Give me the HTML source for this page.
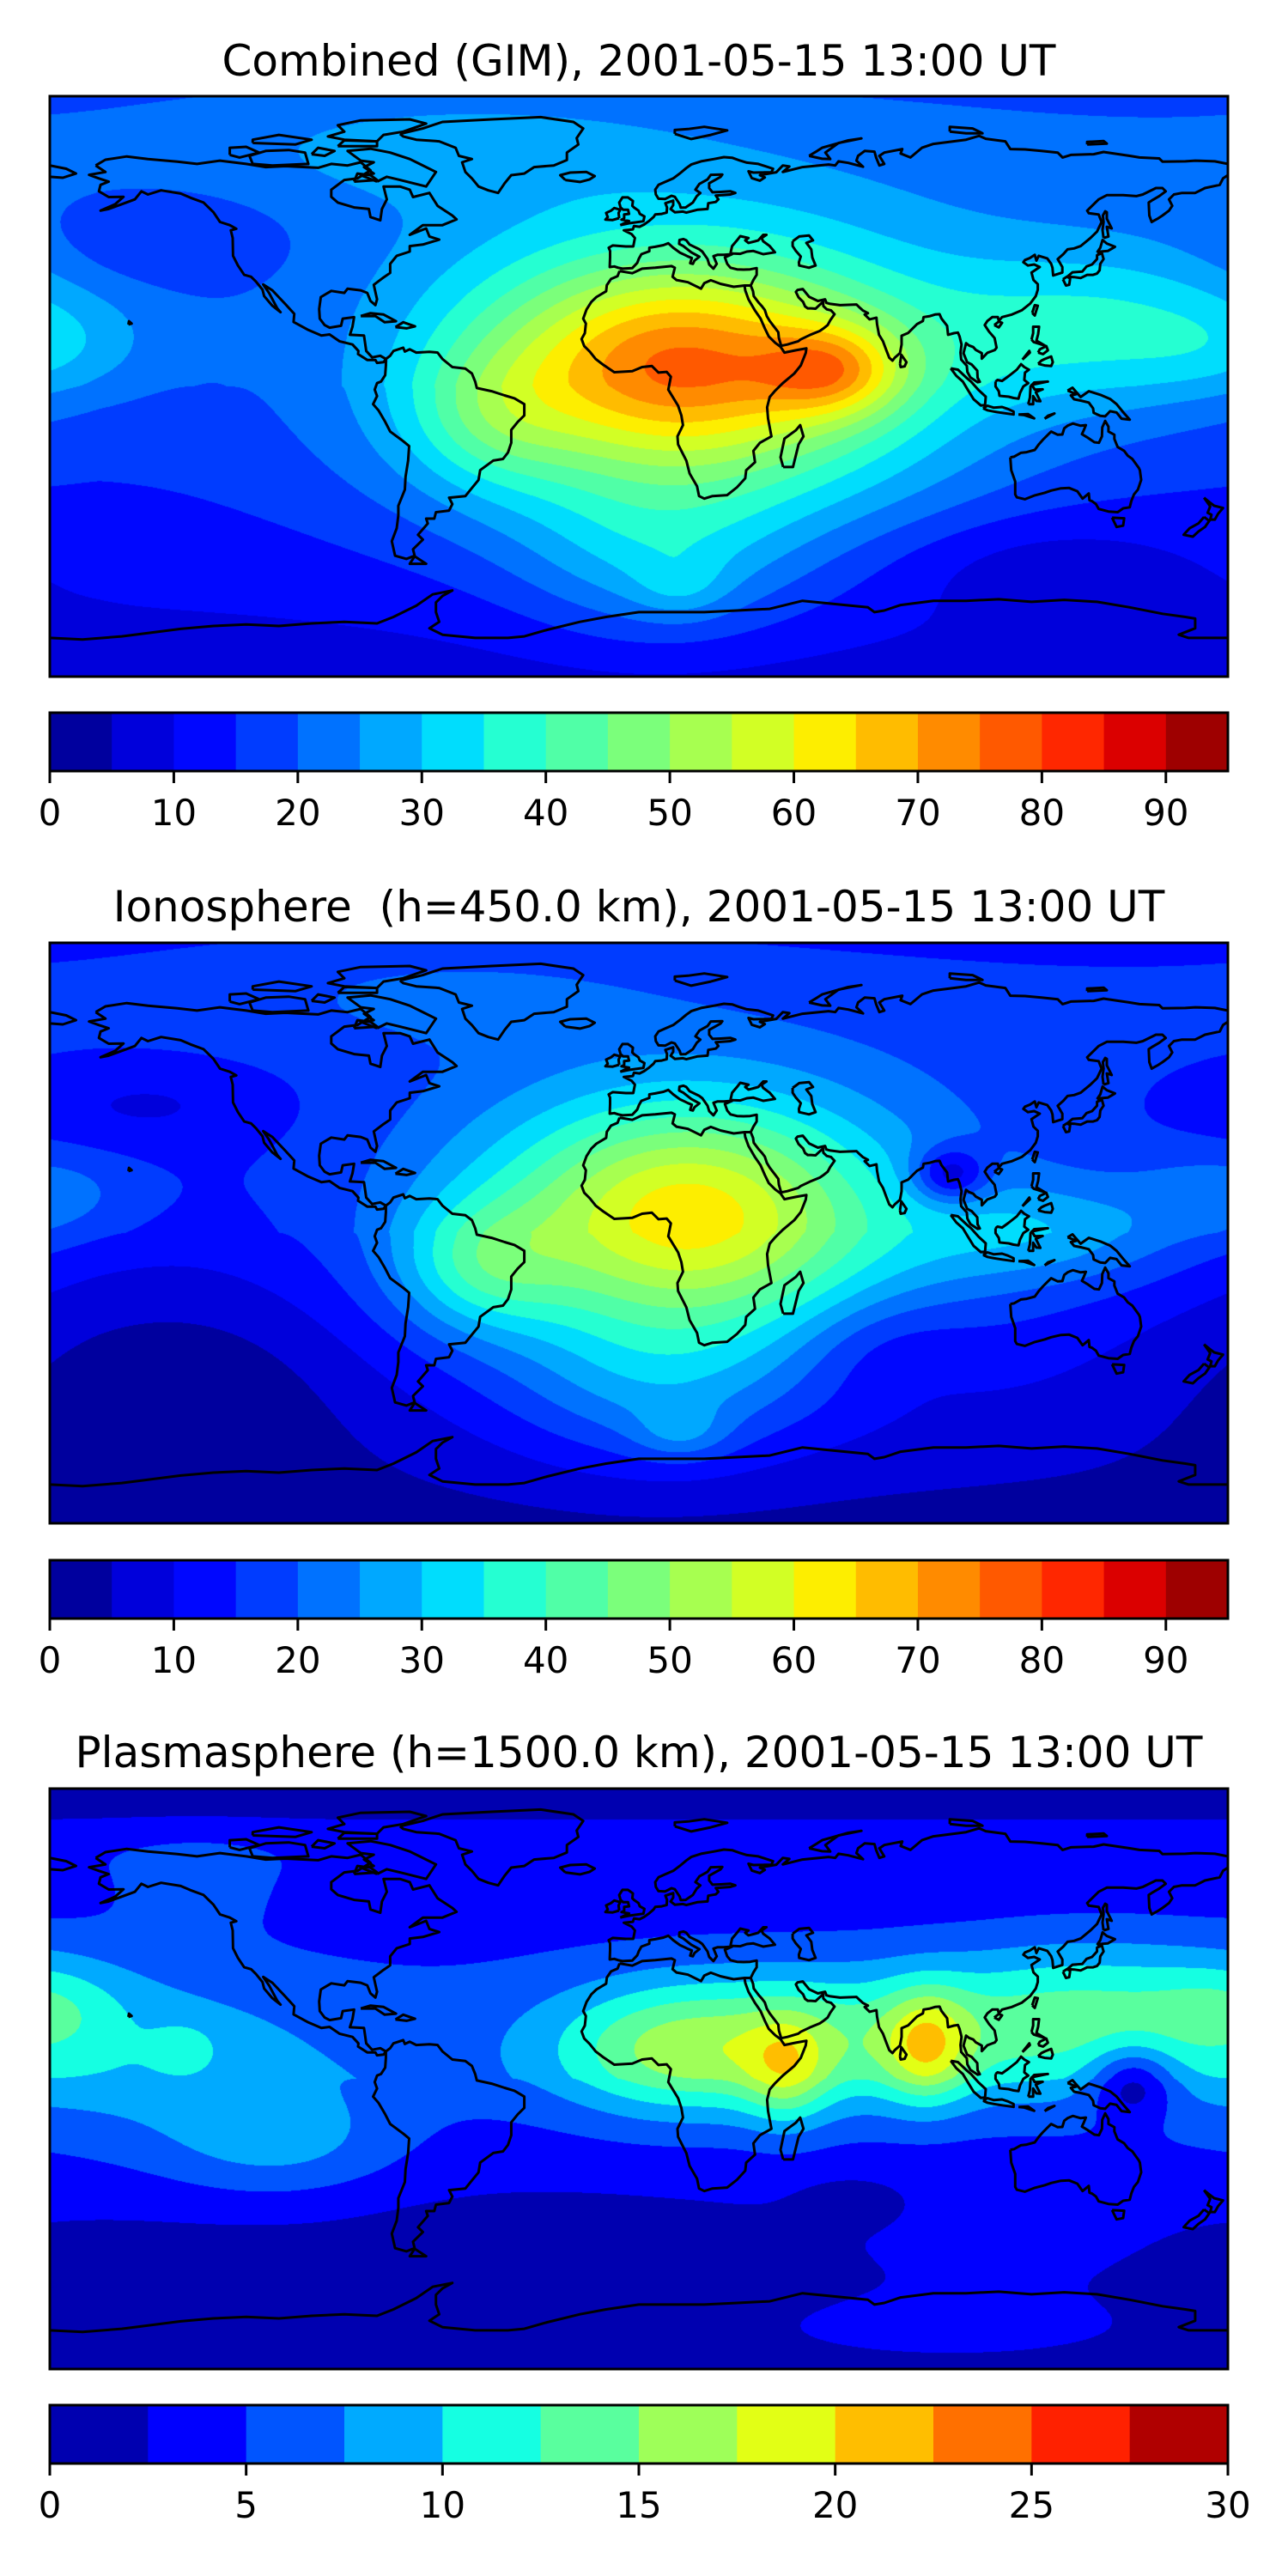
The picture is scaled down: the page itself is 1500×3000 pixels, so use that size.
<!DOCTYPE html>
<html><head><meta charset="utf-8">
<style>
html,body{margin:0;padding:0;background:#fff;}
#root{position:relative;width:1500px;height:3000px;overflow:hidden;background:#fff;}
canvas{position:absolute;}
svg{position:absolute;left:0;top:0;}
text{font-family:"DejaVu Sans","Liberation Sans",sans-serif;fill:#000;}
</style></head>
<body>
<div id="root">
<canvas id="c0" width="1372" height="676" style="left:58px;top:112px"></canvas>
<canvas id="c1" width="1372" height="676" style="left:58px;top:1098px"></canvas>
<canvas id="c2" width="1372" height="676" style="left:58px;top:2083px"></canvas>
<svg id="ov" width="1500" height="3000" xmlns="http://www.w3.org/2000/svg">
<text x="744" y="88" font-size="50" text-anchor="middle">Combined (GIM), 2001-05-15 13:00 UT</text>
<text x="744" y="1073" font-size="50" text-anchor="middle" xml:space="preserve">Ionosphere  (h=450.0 km), 2001-05-15 13:00 UT</text>
<text x="744" y="2058" font-size="50" text-anchor="middle">Plasmasphere (h=1500.0 km), 2001-05-15 13:00 UT</text>
</svg>
</div>
<script>
// ---------- data ----------
const panelTop = [112, 1098, 2083];
const cbarTop = [830, 1817, 2801];
const levelMin = [0, 0, 0];
const levelMax = [95, 95, 30];
const levelStep = [5, 5, 2.5];
const tickValues0 = [0,10,20,30,40,50,60,70,80,90];
const tickValues1 = [0,10,20,30,40,50,60,70,80,90];
const tickValues2 = [0,5,10,15,20,25,30];
// background: base + eq*cos(lat) + north*sin(lat)^2 (N) - south*sqrt(-sin(lat)) (S)
const bgBase = [9, 6, 0.5];
const bgEq = [8, 8, 5];
const bgNorth = [10, 8, 0];
const bgSouth = [2, 3, 2.5];
const bgArctic = [0, 0, 2];
// blobs per panel: lon, lat, amplitude, sigmaLon, sigmaLat
const blobLon0 = [15, 12, 60, -45, 5, 13, 145, -180, -60, -145, 120];
const blobLat0 = [0, 8, 5, -10, -55, -62, 18, 12, 75, 45, -55];
const blobAmp0 = [33, 27, 22, 10, 10, 6, 16, 5, 6, -6, -6];
const blobSLon0 = [60, 38, 15, 18, 28, 10, 40, 20, 50, 25, 35];
const blobSLat0 = [35, 20, 10, 15, 18, 7, 18, 10, 12, 10, 12];

const blobLon1 = [15, 15, -48, 5, 13, 125, 95, 180, -60, -150, -140, 75];
const blobLat1 = [0, 8, -10, -50, -62, 0, 18, 12, 75, 40, -45, -35];
const blobAmp1 = [30, 20, 15, 10, 8, 12, -18, 8, 5, -6, -8, -6];
const blobSLon1 = [55, 35, 18, 30, 10, 30, 8, 20, 50, 30, 40, 20];
const blobSLat1 = [32, 22, 14, 18, 6, 12, 6, 10, 12, 10, 26, 12];

const blobLon2 = [-150, -180, -139, -110, 55, 88, 45, 10, 140, 151, -135, 110, 65, -30, 95];
const blobLat2 = [5, 22, 10, -20, 12, 10, 2, 8, 22, -1, 60, -55, -38, -48, -80];
const blobAmp2 = [3.5, 3, 2.5, 4, 8, 8, 6, 6, 6, -7, 2.5, 2, -1.5, -1, 4.5];
const blobSLon2 = [45, 15, 7, 25, 50, 9, 9, 25, 35, 9, 20, 40, 12, 30, 60];
const blobSLat2 = [22, 10, 5, 12, 16, 12, 12, 14, 16, 8, 10, 12, 6, 8, 10];

const blobs = [
  [blobLon0, blobLat0, blobAmp0, blobSLon0, blobSLat0],
  [blobLon1, blobLat1, blobAmp1, blobSLon1, blobSLat1],
  [blobLon2, blobLat2, blobAmp2, blobSLon2, blobSLat2]
];

// ---------- scales ----------
const X0 = 58, W = 1372, H = 676;
function xOfLon(lon){ return X0 + (lon + 180) / 360 * W; }
function yOfLat(lat, p){ return panelTop[p] + (90 - lat) / 180 * H; }

function seg(x, pts){
  for (let i = 1; i < pts.length; i++) {
    if (x <= pts[i][0]) {
      const a = pts[i-1], b = pts[i];
      return a[1] + (b[1]-a[1]) * (x - a[0]) / (b[0]-a[0]);
    }
  }
  return pts[pts.length-1][1];
}
const jr = [[0,0],[0.35,0],[0.66,1],[0.89,1],[1,0.5]];
const jg = [[0,0],[0.125,0],[0.375,1],[0.64,1],[0.91,0],[1,0]];
const jb = [[0,0.5],[0.11,1],[0.34,1],[0.65,0],[1,0]];
function jet(x){ return [Math.round(255*seg(x,jr)), Math.round(255*seg(x,jg)), Math.round(255*seg(x,jb))]; }
function bandColors(p){
  const n = Math.round((levelMax[p]-levelMin[p])/levelStep[p]);
  const out = [];
  for (let k = 0; k < n; k++) out.push(jet((k+0.5)/n));
  return out;
}

// ---------- fields ----------
function drawField(p){
  const cv = document.getElementById('c'+p);
  const ctx = cv.getContext('2d');
  const img = ctx.createImageData(W, H);
  const cols = bandColors(p);
  const n = cols.length;
  const [bl, bt, ba, bsl, bst] = blobs[p];
  const nb = bl.length;
  const colF = [], rowF = [];
  for (let b = 0; b < nb; b++) {
    const cf = new Float32Array(W), rf = new Float32Array(H);
    for (let i = 0; i < W; i++) {
      const lon = -180 + (i+0.5)/W*360;
      let d = lon - bl[b]; d = ((d + 540) % 360) - 180;
      cf[i] = Math.exp(-0.5*(d/bsl[b])*(d/bsl[b]));
    }
    for (let j = 0; j < H; j++) {
      const lat = 90 - (j+0.5)/H*180;
      const d = lat - bt[b];
      rf[j] = ba[b]*Math.exp(-0.5*(d/bst[b])*(d/bst[b]));
    }
    colF.push(cf); rowF.push(rf);
  }
  for (let j = 0; j < H; j++) {
    const lat = 90 - (j+0.5)/H*180;
    const r = lat*Math.PI/180, s = Math.sin(r);
    let bg = bgBase[p] + bgEq[p]*Math.cos(r);
    if (s > 0) bg += bgNorth[p]*s*s; else bg -= bgSouth[p]*Math.sqrt(-s);
    bg += bgArctic[p]*Math.exp(-0.5*((lat-72)/8)*((lat-72)/8));
    for (let i = 0; i < W; i++) {
      let v = bg;
      for (let b = 0; b < nb; b++) v += colF[b][i]*rowF[b][j];
      let k = Math.floor((v - levelMin[p]) / levelStep[p]);
      if (k < 0) k = 0; if (k >= n) k = n-1;
      const c = cols[k], o = (j*W+i)*4;
      img.data[o]=c[0]; img.data[o+1]=c[1]; img.data[o+2]=c[2]; img.data[o+3]=255;
    }
  }
  ctx.putImageData(img, 0, 0);
}

// ---------- coastlines (lon,lat) ----------
const coasts = {
"north-america":"-166,68.5 -163,70.3 -156.5,71.3 -150,70.5 -141,69.7 -135,69 -128,70 -120,69 -114,68 -108,68.3 -98,67.8 -94,69 -89,68.5 -85,69.5 -82,67 -86,64.5 -90,64 -94,61 -94,58.8 -92,57 -87,55.5 -82.5,55 -82,52.5 -79,51.5 -78.5,55 -77,58 -78,62 -73,62 -70,61 -69,58.7 -64,60 -61.5,56 -57,53 -55.7,51.8 -60,50 -66,50 -70,47 -65,49 -64,46.5 -61,45.5 -66,44 -70,43.5 -70,41.8 -74,40.5 -76,38 -76,35.2 -78,33.8 -81,31.5 -80,27 -80.5,25.2 -82,26.5 -83,29 -85,29.8 -89,30.3 -90,29 -94,29.6 -97.2,27.7 -97.7,24 -97.5,21 -96,19 -94.5,18.2 -91,18.8 -90.5,21 -87,21.5 -87.5,18.5 -88.3,16 -84,15.8 -83.3,11 -81.5,9 -79,9.5 -77.3,8.5 -78,7.5 -80,7.3 -80.5,8.2 -83,8.2 -85.8,10 -85.7,11 -87.5,13 -91.5,14 -94.5,16.1 -97,15.8 -101,17.5 -105.5,20 -105.3,22.5 -108,25.5 -112,29.8 -114.8,31.6 -113,29 -110.5,24.2 -109.5,23 -112,25 -114.5,28 -115,30 -117,32.5 -118.5,34 -120.6,34.6 -122.5,37.5 -124,40.5 -124.1,46 -124.7,48.4 -123,48.9 -125,50 -128,51 -130,54 -133,57 -137,58.5 -140,59.8 -146,60.8 -150,59.5 -152,60.5 -154,58 -158,56.5 -162,55 -164.5,54.5 -160,56.5 -157.5,58.8 -162,58.7 -165,60.5 -164.5,62.5 -162,63.5 -165,64.5 -168,65.6 -163,66.5 -166,68.5",
"south-america":"-77.3,8.5 -76,9.5 -75,11 -72,12 -71.5,10.8 -70,11.5 -68,10.5 -64,10.7 -61.5,10.5 -60,8.5 -57,6 -53,5.5 -51,4 -50,1.5 -49.5,-0.5 -45,-1.5 -41,-2.8 -38,-3.7 -35,-5.5 -35,-9 -37,-11 -39,-13.5 -39,-17.5 -40,-20.5 -41.5,-22.5 -44.5,-23 -48.5,-26 -49,-29 -51,-31.5 -53,-34 -58,-34.5 -57,-36.5 -58,-38.5 -62,-39 -62.5,-41 -65,-41 -64.5,-42.5 -67.5,-46 -66,-47.5 -69,-50.5 -68.5,-52.5 -71,-53.5 -74.5,-52.5 -75.5,-48 -74,-44 -73.5,-40 -73.5,-37 -71.5,-32 -71.3,-28 -70.5,-23 -70.2,-18.5 -72,-17 -76,-14 -77.5,-11 -79.5,-7.5 -81.2,-5.5 -80,-3 -80.7,-1 -80,1 -78.8,1.5 -77.5,3.5 -77.3,6.5 -77.3,8.5",
"tierra-del-fuego":"-68.5,-52.7 -65,-55 -70,-55 -68.5,-52.7",
"greenland":"-73,78.3 -66,80 -60,82 -45,82.8 -30,83.5 -20,82 -17,80 -19,77 -18.5,75 -22,72.5 -22,70.2 -26,68.5 -32,68 -35,66 -39,65.5 -41,63 -43,60 -46,60.8 -49,62 -51,64.5 -53,66.5 -54,69.5 -51,70.5 -55,71.5 -56,74 -61,76 -68,76.5 -72,77.5 -73,78.3",
"iceland":"-22.5,64 -24,65.5 -21,66.3 -16,66.5 -13.5,65.2 -15,64.2 -18,63.4 -22.5,64",
"baffin":"-80,63.5 -77,65 -73,64 -65,62 -62,66.5 -67,69 -70,70.5 -76,72.5 -82,73.7 -89,73 -85,70 -81,69.5 -84,68 -81,66 -85,65.5 -80,63.5",
"victoria":"-118,69 -112,68.5 -101,69 -102,72.5 -107,73.3 -114,73 -119,71.5 -118,69",
"banks":"-125,71.8 -122,71 -116,72.5 -120,74.3 -125,74 -125,71.8",
"ellesmere":"-90,76.5 -80,76 -78,78 -72,79 -65,81.5 -70,82.8 -85,82.5 -92,81 -90,79 -95,77.5 -90,76.5",
"devon":"-92,74.5 -80,74.5 -80,76 -90,76.3 -92,74.5",
"southampton":"-87,63.5 -80,64 -82,65.5 -86,66 -87,63.5",
"somerset":"-100,72 -96,71.5 -93,73 -98,74 -100,72",
"parry":"-118,75.5 -105,75 -100,76.5 -110,78 -118,76.5 -118,75.5",
"cuba":"-85,21.8 -82,22.7 -78,22.3 -74.2,20.2 -77.7,19.9 -80.5,21.8 -85,21.8",
"hispaniola":"-74.4,18.4 -72,19.9 -68.4,18.6 -71,18 -74.4,18.4",
"hawaii":"-156,19.2 -155,19.5 -155.8,20.2 -156,19.2",
"africa":"-5.9,35.8 -2,35.1 1,36.5 5,36.8 10,37.3 11,36.8 10.3,34 11.5,33 15,32.3 19,30.3 20,32 22,32.9 25,31.8 29,30.9 32.3,31.3 32.5,29.8 33.5,27 35.5,23.5 37.2,21 38.5,18 39.7,15.5 41.7,13.5 43.3,12.3 44.5,10.5 48,11.2 51.2,11.8 51,10.4 49.5,6.5 47.5,4 44,1 41.5,-1.5 40,-3.3 39.2,-6.5 39.5,-10 40.5,-15.5 37,-17.5 35,-20 35.5,-23.5 32.8,-26 32.5,-28.5 30,-31.3 27,-33.7 22.5,-34 20,-34.8 18.4,-34 17.8,-31 15.5,-27 14.5,-23 12,-18 11.8,-15.5 13.5,-12 13,-9 12,-6 9,-1 9.8,3 8.5,4.5 6,4.3 4,6.3 1,6 -2,4.7 -7.5,4.4 -11,6.8 -13.2,8.5 -15,10.8 -16.7,12.5 -17.5,14.7 -16.5,16.5 -16.2,19.5 -17,21 -16,23.8 -14.5,26.2 -13,27.7 -10,29.5 -9.8,31.4 -8.5,33.3 -6.5,34.2 -5.9,35.8",
"madagascar":"44.1,-25 47.1,-25 48.8,-18 50.3,-15.5 49.3,-12 48,-13.6 44.5,-16.2 43.3,-22 44.1,-25",
"eurasia-west":"32.3,31.3 34.2,31.3 35,33 36,34.6 36,36.7 34,36.3 32,36.2 30,36.3 28,36.8 27,38 26.3,40 28.5,41 26,40.8 24,40.8 22.8,40.4 23.8,38 22.8,36.5 21.5,37.8 21,39.5 19.4,41.8 18.5,42.5 15.5,44 14.5,45.3 13.6,45.7 12.4,45.4 12.3,44.2 13.6,43.5 16,41.6 18.5,40.2 17,39 16.5,38 15.7,38.2 16.2,39.8 15,40.3 14,40.8 12.5,41.5 10.5,43 9,44.4 7.5,43.8 5,43.3 3.2,43 3.2,41.9 0.8,41 0,39.6 -0.5,38.3 -2,36.7 -5,36.5 -6.3,36.8 -7.5,37.2 -8.9,37 -8.8,40 -8.8,42 -9.2,43 -8,43.7 -4,43.4 -1.7,43.4 -1.2,46 -2.2,47.2 -4.6,48.4 -1.8,48.7 -1.5,49.7 0.2,49.5 1.6,50.2 3,51.2 4.5,52.5 5,53.3 7,53.5 8.5,53.9 8.6,55.5 8.1,56.8 10.5,57.6 10.5,56.2 9.7,55 11,54 13.5,54.2 14.5,53.9 18,54.8 21,55 21.2,56.8 23.5,57.2 24.3,58 23.5,59.2 28,59.5 29.5,60 28,60.5 25,60.3 22.5,60.2 21.5,61.5 21.5,63 25,65 25.5,65.7 22,65.6 21,64.2 18.5,62.8 17.3,61 18.8,60 17.7,59 16.5,57 14.3,55.5 12.8,55.4 12.5,56.5 11,58.8 10,59.1 8,58.1 6,58.2 5.2,59.5 5,61 6,62.5 8,63.4 10.5,64.5 12.5,66 14.5,67.7 16,68.8 19,69.8 23,70.5 26,71.1 28.5,70.9 31,70 33,69.4 36.5,69 41,67.5 40.5,66.4 35,66.3 33.5,66.7 34.5,64.6 37,63.8 38.5,64.8 37,65.5 42,66.4 44,68.5 46,68.2 44,66.5 50,68 54,68.4 58,68.8 60,68.5 61,69.8 64,69.3 67,68.5 68.5,68.1 66.5,70 67,71.5 69,73 72,72.8 72.5,71 73.5,68.5 75,69 73.5,71.5 75,72.5 80.5,73.6 80,72.2 83,71 86.5,74 90,75.2 100,76.5 104,77.7 106,76.8 112,76 113.5,73.6 118,73.5 123,73 128,72.5 129.5,71 132,71.8 139,72 142,72.7 150,71.5 153,71 159,70.7 160,69.7 167,69.8 170,70 176,69.8 180,69",
"eurasia-east":"180,65.5 178.5,64.5 177.5,62.5 173,61.5 170,60 166,60 163.5,59.5 162,58 163,56 162,54.5 160,53 158.5,52 156.7,51 156,53 155.8,57 157,57.8 159,59 161,60.5 160,61.5 158,61.5 154,59.5 152,59 148,59.3 143,59.3 140.5,58 137,54.5 137.5,53.7 140.5,53.3 141.4,51 140,48 138,46 135,43.5 133,42.8 131,42.5 129.7,41 128,39.5 129.4,37 129.4,35.3 126.6,34.4 126.4,36.8 126,38 124.8,39.7 122.2,40.5 121.5,39 121,40.8 119.5,39.8 118,39.2 117.5,38.5 118.9,37.5 120.8,37.8 122.5,37 120,35.3 120.6,33 121.9,31.7 121.9,30 121.3,28 119.6,25.7 117,23.6 114,22.3 111,21.5 110,20.3 109.7,21.5 108,21.5 106.5,20.3 105.7,19 107,17 108.7,15 109.3,12 108.8,11.3 106.5,10.4 104.8,8.6 104.8,10.3 103,11.3 102.2,12.2 100.9,12.7 100,13.4 99.2,10.3 100.3,7.5 101.7,6.8 103.4,4.9 103.5,2.7 104.2,1.4 103.5,1.3 101.3,2.8 100.4,4.5 100.2,6.4 98.5,8.3 98.3,10.5 98.6,13 98,15.5 97.5,16.7 96.3,16.5 94.5,16 94.2,18.8 92.5,21 91.9,22.4 90.5,22.3 89,21.8 87,21.5 86.8,20.3 85,19.3 82.3,16.6 80.3,15.7 80.3,13 79.8,10.3 78.2,8.9 77.5,8 76.5,8.9 75.6,11.3 74.6,14 73.4,16 72.8,19.3 72.6,21.3 70.5,20.8 69,22.3 70,22.7 68.5,23.5 67.2,24.7 66.5,25.4 64,25.3 61.5,25.2 58.5,25.6 57.3,25.9 56.9,27 54.7,26.5 52,27.8 50.1,30.2 48.5,29.9 48,29.3 48.8,27.6 50.2,26.2 50.8,24.8 51.6,24.2 52.6,24.2 54,24.1 55.5,25.5 56.3,26.2 56.4,24.9 57.4,23.9 58.7,23.6 59.8,22.4 58.5,20.5 57.7,19 56.3,17.9 55.3,17.2 52.2,15.9 49.5,14.6 48.7,14 46.7,13.4 45.4,13 43.5,12.6 42.8,15 42.6,16.8 41.2,18.7 40,20.3 39.1,21.8 38.5,23.7 37.5,25 36.6,26 35.1,28 34.9,29.5 34.2,31.3",
"chukotka":"-180,68.5 -175,67.5 -172,66 -176,64.7 -180,65",
"black-sea":"28,41.3 28.5,43.5 30,45.3 31,46.6 33.5,46 32.5,45.3 33.5,44.5 35.5,45 36.5,45.3 38,47 39,47 37.5,46 38,45 40,43.5 41.6,41.6 38,41 35,42 33,41.8 31,41.1 29,41.2 28,41.3",
"caspian":"47,45 49,46.5 52,46.8 53.2,45.3 51.2,44.5 52.7,42.5 53,40 54,37.5 52,36.8 49,37.5 48.9,38.5 49.5,40.3 48,42 47,43.5 47,45",
"britain":"-5.7,50 -3,50.6 1.4,51.2 1.7,52.7 0.3,53.5 -0.1,54.5 -1.5,55.5 -2,56 -1.8,57.5 -3.3,58.6 -5,58.6 -6,57 -5.6,55.5 -4.8,54.8 -3.3,54.8 -3,53.5 -4.5,53.3 -4.5,52.1 -5.3,51.7 -3,51.3 -5.7,50",
"ireland":"-6,52.2 -6.2,53.8 -5.7,54.8 -7.5,55.3 -8.5,54.5 -10,53.8 -9.5,52.5 -10.2,51.7 -8,51.6 -6,52.2",
"svalbard":"11,78.3 16,76.7 22,78 27,79.4 20,80.5 15,79.8 11,79.5 11,78.3",
"novaya-zemlya":"52,71.5 56,70.6 58.5,70.5 57,72.5 61,75.5 68,76.9 64,76.3 56,74 54.5,73 52,71.5",
"severnaya-zemlya":"95,79 100,78.5 105,78.5 102,80 95,80.5 95,79",
"new-siberian":"137,75 143,75.3 142,76.1 137,75.8 137,75",
"sri-lanka":"79.8,7 80.2,9.8 81.8,7.5 81.2,6.2 80,6 79.8,7",
"honshu":"130.9,34 132.5,35.4 135.5,35.6 136.8,37.2 138.5,37.8 140,39.5 140,40.7 141.5,41.3 142,39.5 141,38 140.8,36 140,35 138.8,34.6 137,34.6 135,33.6 133,33.9 130.9,34",
"kyushu":"129.6,33.2 130.5,31.3 131.5,31.5 131.8,33.5 130.8,34 129.6,33.2",
"hokkaido":"140,41.5 141,43 141.7,45.4 143,44.3 145.5,43.3 143.3,42 141,41.8 140,41.5",
"sakhalin":"142,46 143.5,46.5 143,49.5 144.5,49 143,52 143,54 142.5,54.3 141.8,53 142,51 141.7,48.5 142,46",
"taiwan":"120.2,22.8 121,22 121.9,25 121,25.2 120.2,22.8",
"hainan":"108.6,19 110,18.3 111,19.7 110,20.1 108.6,19",
"luzon":"120,14.5 120.5,16.5 120.5,18.5 122.3,18.5 122,16.2 121.5,14.2 124,12.7 123,13 120.7,13.7 120,14.5",
"mindanao":"122,7 124,6.5 126,6.3 126.5,7.5 126,9.3 124,8.5 123,8 122,7",
"visayas":"122,10.5 123.5,10 125,11.2 124.5,12.5 122.5,11.5 122,10.5",
"palawan":"117.2,8.3 119.5,10.5 119.3,11 117.2,8.3",
"borneo":"109,1.5 109.6,2 111,1.7 113,3.2 115.5,5.2 116.8,6.9 117.8,6 119.2,5.2 118,4.3 117.8,2 119,1 117.5,0 116.5,-2 116,-3.8 114.5,-3.6 113,-3.2 111,-3 110.2,-2.9 110,-1.5 109,0 109,1.5",
"sumatra":"95.3,5.6 97.5,5.2 100.3,2.5 101.5,1.5 103.7,-1 106,-3.2 105.8,-5.8 104.5,-5.9 102.3,-4 100.5,-1 99,1.5 97,3.3 95.3,5.6",
"java":"105.2,-6.8 106.5,-6 108.5,-6.6 111,-6.4 112.8,-7 114.5,-7.8 114.5,-8.7 111,-8.2 108.5,-7.8 106.5,-7.4 105.2,-6.8",
"sulawesi":"119,-5.5 120.5,-5.5 120.5,-3 121.5,-4.5 122.7,-4.6 121.3,-1.8 123.4,-0.9 121,-1 120.1,0.5 124.5,1.4 125,1.5 120.8,1.2 119.7,0 119.5,-3.5 119,-5.5",
"new-guinea":"131,-1.3 132.5,-0.4 135,-3.3 137.5,-1.5 141,-2.6 144,-3.9 146,-5.5 148,-8 150,-10.3 147.5,-10 146,-8.1 144,-7.7 142.5,-9.3 141,-9.1 139,-8.2 138.8,-6.8 137.5,-5 135,-4.4 133,-4 132,-2.8 133.7,-2.4 131,-1.3",
"timor":"124,-10 127,-8.4 125,-9.1 124,-10",
"sumbawa":"116,-8.7 119,-8.6 120.8,-9.9 117.8,-8.9 116,-8.7",
"australia":"113.5,-22 113.8,-26 115,-29.5 115,-33.5 115.5,-34.4 118,-35 121,-33.8 124,-33 126,-32.3 129,-31.6 131.5,-31.5 134,-32.5 135.6,-34.8 137.5,-33.2 137.7,-35.3 138.5,-35.6 139.7,-36.5 140.5,-38 143.5,-38.8 146.3,-39 148,-37.8 150,-37.5 150.5,-35.5 151.3,-33.5 152.5,-32 153.5,-29 153.1,-26 152.8,-25.3 150.8,-22.5 149.4,-21.5 148.3,-20 146.3,-18.8 145.3,-16.3 145.3,-15 143.5,-14 143.5,-12.5 142.5,-10.7 141.6,-12.7 141.5,-15.5 140.6,-17.5 139.2,-17.3 137,-15.8 135.4,-14.8 136,-13.5 136.6,-12 135,-12.2 132.6,-11.5 131,-12.2 130,-13 129.4,-14.9 128,-15 126,-14 125,-15 123.5,-16.5 122.2,-18 121,-19.7 118.5,-20.4 116.7,-20.6 114.6,-21.8 113.5,-22",
"tasmania":"144.6,-40.7 148.3,-40.9 148,-43.2 146,-43.6 144.6,-40.7",
"nz-north":"172.7,-34.5 174.5,-36 175.8,-37 178.5,-37.7 177,-39.5 176,-41.3 174.6,-41.3 175,-39.8 173.8,-39.2 174.6,-37.2 172.7,-34.5",
"nz-south":"172.7,-40.5 174.3,-41.7 173,-43.6 171,-45 169.3,-46.6 166.5,-46 168.3,-44 171,-42.5 172.7,-40.5",
"antarctica":"-180,-78 -170,-78.5 -158,-77.5 -150,-76.5 -140,-75.2 -130,-74.3 -120,-73.8 -110,-74.3 -100,-73.5 -90,-73 -80,-73.5 -75,-71.5 -68,-68 -63,-64.5 -57,-63.3 -60,-65 -62,-67 -62,-70 -61,-73 -64,-75 -60,-77 -50,-78 -40,-78 -35,-77.5 -28,-75.5 -18,-73 -10,-71.5 0,-70 10,-70 20,-70 30,-69.5 40,-69 50,-66.5 60,-67.5 70,-68.5 72,-70 75,-69.5 80,-67.8 90,-66.5 100,-66.5 110,-66 120,-66.8 130,-66.2 140,-66.8 150,-68.5 160,-70.5 167,-71.5 170,-72 170,-75 165,-77 168,-78 180,-78"
};

// ---------- SVG build ----------
const NS = 'http://www.w3.org/2000/svg';
const ov = document.getElementById('ov');
const panelNames = ['combined', 'ionosphere', 'plasmasphere'];
const tickSets = [tickValues0, tickValues1, tickValues2];

const defs = document.createElementNS(NS, 'defs');
ov.appendChild(defs);

for (let p = 0; p < 3; p++) {
  drawField(p);
  const cp = document.createElementNS(NS, 'clipPath');
  cp.setAttribute('id', 'clip' + p);
  const cr = document.createElementNS(NS, 'rect');
  cr.setAttribute('x', X0); cr.setAttribute('y', panelTop[p]);
  cr.setAttribute('width', W); cr.setAttribute('height', H);
  cp.appendChild(cr); defs.appendChild(cp);

  const g = document.createElementNS(NS, 'g');
  g.setAttribute('clip-path', 'url(#clip' + p + ')');
  
  
  for (const key in coasts) {
    const pts = coasts[key].split(' ').map(s => s.split(',').map(Number));
    const pl = document.createElementNS(NS, 'polyline');
    pl.setAttribute('points', pts.map(q => xOfLon(q[0]).toFixed(1) + ',' + yOfLat(q[1], p).toFixed(1)).join(' '));
    pl.setAttribute('fill', 'none');
    pl.setAttribute('stroke', '#000');
    pl.setAttribute('stroke-width', '3');
    pl.setAttribute('stroke-linejoin', 'round');
    
    
    g.appendChild(pl);
  }
  ov.appendChild(g);

  const frame = document.createElementNS(NS, 'rect');
  frame.setAttribute('x', X0); frame.setAttribute('y', panelTop[p]);
  frame.setAttribute('width', W); frame.setAttribute('height', H);
  frame.setAttribute('fill', 'none'); frame.setAttribute('stroke', '#000'); frame.setAttribute('stroke-width', '3');
  
  
  ov.appendChild(frame);

  const cols = bandColors(p);
  const n = cols.length;
  const cbH = 68;
  const cbg = document.createElementNS(NS, 'g');
  
  
  const span = levelMax[p] - levelMin[p];
  function xOfVal(v){ return X0 + (v - levelMin[p]) / span * W; }
  for (let k = 0; k < n; k++) {
    const r = document.createElementNS(NS, 'rect');
    const a = xOfVal(levelMin[p] + k*levelStep[p]), b = xOfVal(levelMin[p] + (k+1)*levelStep[p]);
    r.setAttribute('x', a.toFixed(2)); r.setAttribute('y', cbarTop[p]);
    r.setAttribute('width', (b - a + 0.6).toFixed(2)); r.setAttribute('height', cbH);
    r.setAttribute('fill', 'rgb(' + cols[k].join(',') + ')');
    
    
    cbg.appendChild(r);
  }
  const cbf = document.createElementNS(NS, 'rect');
  cbf.setAttribute('x', X0); cbf.setAttribute('y', cbarTop[p]);
  cbf.setAttribute('width', W); cbf.setAttribute('height', cbH);
  cbf.setAttribute('fill', 'none'); cbf.setAttribute('stroke', '#000'); cbf.setAttribute('stroke-width', '3');
  
  
  cbg.appendChild(cbf);
  for (const v of tickSets[p]) {
    const x = xOfVal(v);
    const t = document.createElementNS(NS, 'line');
    t.setAttribute('x1', x); t.setAttribute('x2', x);
    t.setAttribute('y1', cbarTop[p] + cbH); t.setAttribute('y2', cbarTop[p] + cbH + 14);
    t.setAttribute('stroke', '#000'); t.setAttribute('stroke-width', '3');
    
    
    cbg.appendChild(t);
    const tx = document.createElementNS(NS, 'text');
    tx.setAttribute('x', x); tx.setAttribute('y', cbarTop[p] + cbH + 63);
    tx.setAttribute('font-size', '42'); tx.setAttribute('text-anchor', 'middle');
    tx.textContent = String(v);
    
    
    cbg.appendChild(tx);
  }
  ov.appendChild(cbg);
}
</script>
</body></html>
